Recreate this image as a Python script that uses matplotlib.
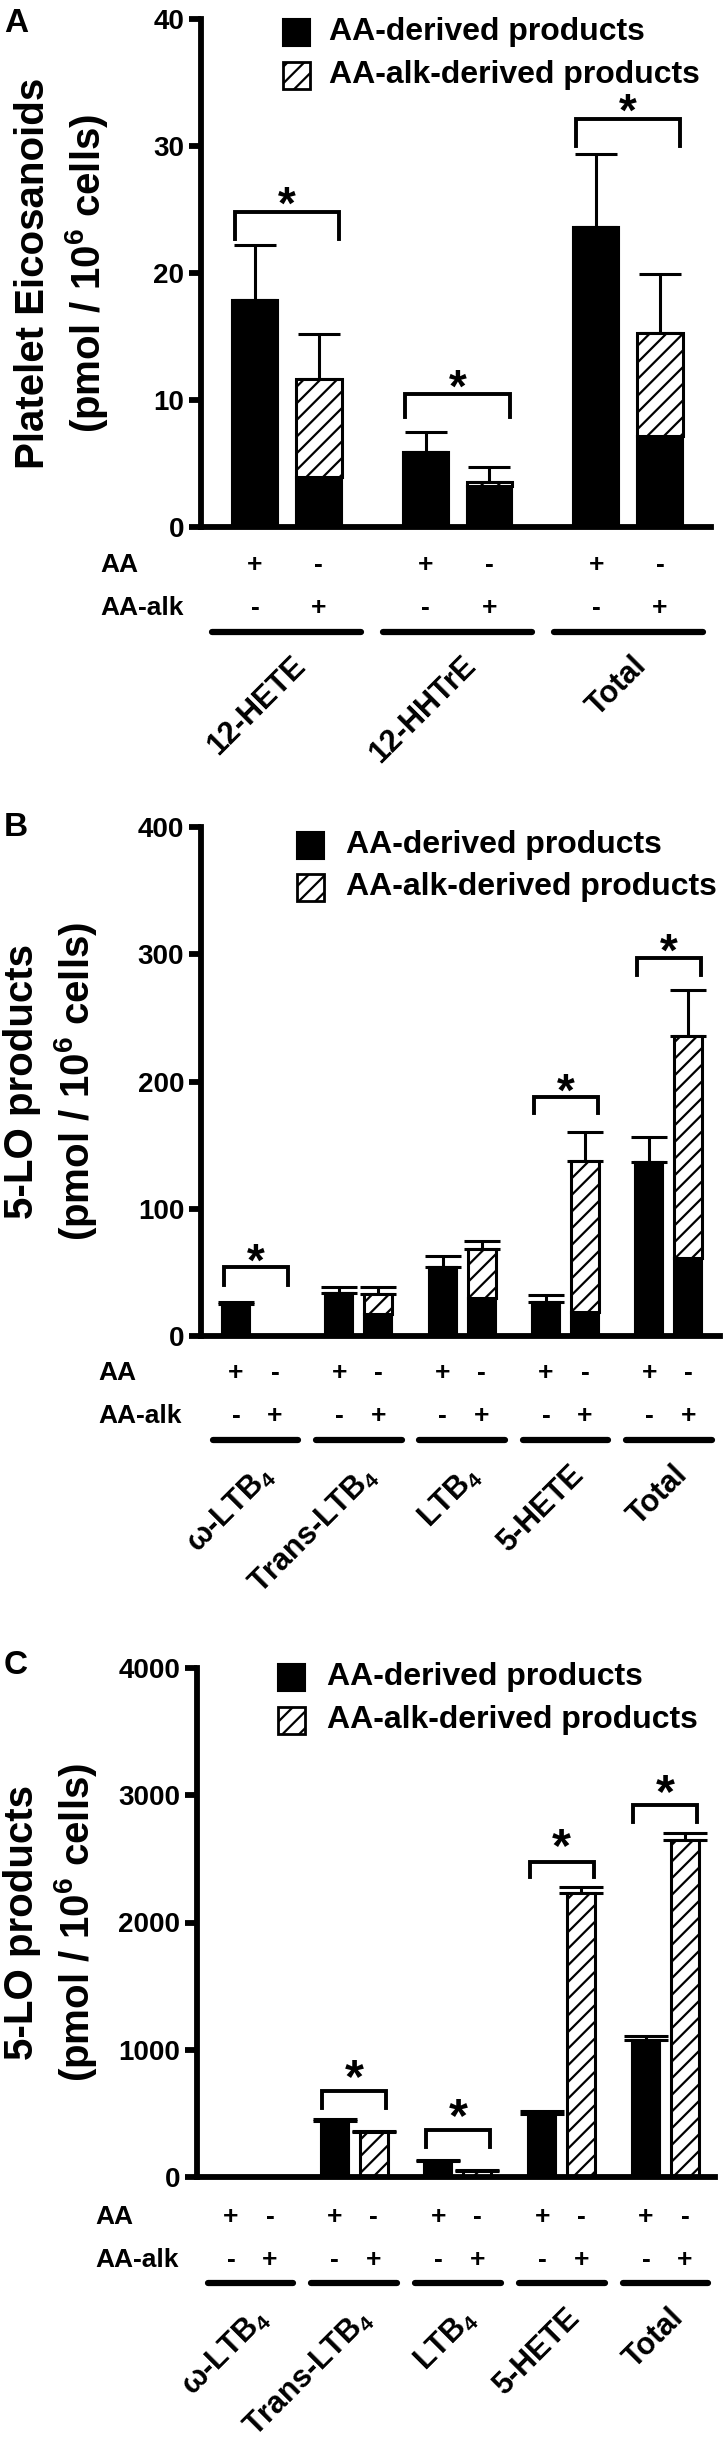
import matplotlib
matplotlib.use('Agg')
import matplotlib.pyplot as plt
import matplotlib.transforms as mtransforms
from matplotlib.patches import Rectangle

plt.rcParams['font.family'] = ['Liberation Sans', 'DejaVu Sans']
plt.rcParams['font.weight'] = 'bold'
plt.rcParams['mathtext.fontset'] = 'custom'
plt.rcParams['mathtext.rm'] = 'Liberation Sans:bold'
plt.rcParams['mathtext.it'] = 'Liberation Sans:bold'
plt.rcParams['mathtext.bf'] = 'Liberation Sans:bold'
plt.rcParams['mathtext.default'] = 'rm'
plt.rcParams['hatch.linewidth'] = 1.6

# ---------------- data ----------------
legend_labels = ['AA-derived products', 'AA-alk-derived products']
row_labels = ['AA', 'AA-alk']
row_AA = ['+', '-']
row_ALK = ['-', '+']

# Panel A : platelets
A_groups = ['12-HETE', '12-HHTrE', 'Total']
A_aa = [17.9, 5.9, 23.6]
A_aa_err = [4.3, 1.55, 5.8]
A_alk_total = [11.65, 3.55, 15.25]
A_alk_black = [3.95, 3.2, 7.2]
A_alk_err = [3.55, 1.2, 4.65]
A_sig = [0, 1, 2]
A_br_top = [24.8, 10.5, 32.1]
A_br_leg = [22.7, 8.7, 30.0]
A_star = [26.3, 11.9, 33.6]
A_yticks = [0, 10, 20, 30, 40]
A_ylabel = ['Platelet Eicosanoids', '(pmol / 10$^6$ cells)']

# Panel B : 5-LO products
B_groups = ['ω-LTB$_4$', 'Trans-LTB$_4$', 'LTB$_4$', '5-HETE', 'Total']
B_aa = [25.5, 34.0, 54.5, 26.4, 137.0]
B_aa_err = [1.0, 4.8, 8.4, 5.8, 19.7]
B_alk_total = [0.0, 33.0, 68.0, 137.5, 235.8]
B_alk_black = [0.0, 17.3, 29.6, 18.6, 61.0]
B_alk_err = [0.0, 5.8, 6.6, 23.1, 36.2]
B_sig = [0, 3, 4]
B_br_top = [54.5, 188.0, 296.8]
B_br_leg = [40.0, 175.0, 283.7]
B_star = [67.6, 201.0, 311.0]
B_yticks = [0, 100, 200, 300, 400]
B_ylabel = ['5-LO products', '(pmol / 10$^6$ cells)']

# Panel C : 5-LO products (second experiment)
C_groups = ['ω-LTB$_4$', 'Trans-LTB$_4$', 'LTB$_4$', '5-HETE', 'Total']
C_aa = [0.0, 442.0, 128.0, 495.0, 1077.0]
C_aa_err = [0.0, 14.0, 6.0, 26.0, 31.0]
C_alk_total = [0.0, 356.0, 50.0, 2230.0, 2648.0]
C_alk_black = [0.0, 0.0, 0.0, 0.0, 0.0]
C_alk_err = [0.0, 4.0, 4.0, 51.0, 53.0]
C_sig = [1, 2, 3, 4]
C_br_top = [678.0, 369.0, 2478.0, 2923.0]
C_br_leg = [540.0, 238.0, 2360.0, 2792.0]
C_star = [880.0, 579.0, 2701.0, 3120.0]
C_yticks = [0, 1000, 2000, 3000, 4000]
C_ylabel = ['5-LO products', '(pmol / 10$^6$ cells)']

# ---------------- figure ----------------
W, H = 724, 2439
fig = plt.figure(figsize=(W / 100, H / 100), dpi=100)


def fx(x):
    return x / W


def fy(y):
    return 1 - y / H


def panel(letter, letter_pos, box, xlim, gpitch, groups, aa, aa_err, alk_tot,
          alk_blk, alk_err, sig, br_top, br_leg, star, yticks, ylabel,
          ylabel_x, rows_px, line_px, leg_sq_x, leg_txt_x, leg_rows,
          capsize, line_half, label_dx, label_dy, rowlab_x, star_fs, lab_fs):
    left, right, top, bottom = box
    ax = fig.add_axes([fx(left), fy(bottom), (right - left) / W, (bottom - top) / H])
    bw = 0.72
    n = len(groups)
    x_aa = [g * gpitch for g in range(n)]
    x_alk = [g * gpitch + 1 for g in range(n)]

    # black AA bars
    xa = [x for x, v in zip(x_aa, aa) if v > 0]
    va_ = [v for v in aa if v > 0]
    ea = [e for v, e in zip(aa, aa_err) if v > 0]
    ax.bar(xa, va_, width=bw, color='black', edgecolor='black', lw=1.5, zorder=2)
    ax.errorbar(xa, va_, yerr=[[0] * len(ea), ea], fmt='none', ecolor='black',
                elinewidth=2.2, capsize=capsize, capthick=2.2, zorder=1)

    # AA-alk bars: black lower part + hatched upper part
    xk = [x for x, v in zip(x_alk, alk_tot) if v > 0]
    tk = [v for v in alk_tot if v > 0]
    bk = [b for v, b in zip(alk_tot, alk_blk) if v > 0]
    ek = [e for v, e in zip(alk_tot, alk_err) if v > 0]
    hk = [t - b for t, b in zip(tk, bk)]
    ax.bar(xk, bk, width=bw, color='black', edgecolor='black', lw=1.5, zorder=2)
    ax.bar(xk, hk, bottom=bk, width=bw, facecolor='white', edgecolor='black',
           hatch='//', lw=2.2, zorder=2)
    ax.errorbar(xk, tk, yerr=[[0] * len(ek), ek], fmt='none', ecolor='black',
                elinewidth=2.2, capsize=capsize, capthick=2.2, zorder=1)

    # significance brackets
    for i, gi in enumerate(sig):
        x0 = x_aa[gi] - 0.32
        x1 = x_alk[gi] + 0.32
        ax.plot([x0, x0, x1, x1], [br_leg[i], br_top[i], br_top[i], br_leg[i]],
                color='black', lw=2.8, solid_joinstyle='miter', clip_on=False)
        tr = ax.transData + mtransforms.ScaledTranslation(0, -0.56 * star_fs / 72,
                                                          fig.dpi_scale_trans)
        ax.text((x0 + x1) / 2, star[i], '*', ha='center', va='baseline',
                fontsize=star_fs, transform=tr)

    ax.set_xlim(*xlim)
    ax.set_ylim(yticks[0], yticks[-1])
    ax.set_yticks(yticks)
    ax.set_xticks([])
    for s in ['top', 'right']:
        ax.spines[s].set_visible(False)
    for s in ['left', 'bottom']:
        ax.spines[s].set_linewidth(4.2)
    ax.tick_params(axis='y', length=9, width=4.2, labelsize=20, pad=3)
    for t in ax.get_yticklabels():
        t.set_fontweight('bold')

    # +/- rows
    xt = ax.get_xaxis_transform()

    def yf(px):
        return (bottom - px) / (bottom - top)
    for g in range(n):
        ax.text(x_aa[g], yf(rows_px[0]), row_AA[0], ha='center', va='center',
                fontsize=19, transform=xt)
        ax.text(x_alk[g], yf(rows_px[0]), row_AA[1], ha='center', va='center',
                fontsize=19, transform=xt)
        ax.text(x_aa[g], yf(rows_px[1]), row_ALK[0], ha='center', va='center',
                fontsize=19, transform=xt)
        ax.text(x_alk[g], yf(rows_px[1]), row_ALK[1], ha='center', va='center',
                fontsize=19, transform=xt)
        gc = (x_aa[g] + x_alk[g]) / 2
        ax.plot([gc - line_half, gc + line_half], [yf(line_px), yf(line_px)],
                transform=xt, clip_on=False, color='black', lw=4.5,
                solid_capstyle='round')
        t = ax.text(gc + label_dx, yf(line_px + label_dy), groups[g],
                    ha='right', va='top', fontsize=lab_fs, transform=xt)
        t.set_rotation_mode('anchor')
        t.set_rotation(45)
    fig.text(fx(rowlab_x), fy(rows_px[0]), row_labels[0], ha='left', va='center', fontsize=19)
    fig.text(fx(rowlab_x), fy(rows_px[1]), row_labels[1], ha='left', va='center', fontsize=19)

    # legend
    sq = 27
    for i, lab in enumerate(legend_labels):
        cy = leg_rows[i]
        if i == 0:
            r = Rectangle((fx(leg_sq_x), fy(cy + sq / 2)), sq / W, sq / H,
                          transform=fig.transFigure, facecolor='black',
                          edgecolor='black', lw=1.5)
        else:
            r = Rectangle((fx(leg_sq_x), fy(cy + sq / 2)), sq / W, sq / H,
                          transform=fig.transFigure, facecolor='white',
                          edgecolor='black', hatch='//', lw=2)
        fig.add_artist(r)
        fig.text(fx(leg_txt_x), fy(cy), lab, ha='left', va='center', fontsize=23)

    # y label (two lines)
    cy = (top + bottom) / 2
    fig.text(fx(ylabel_x[0]), fy(cy), ylabel[0], rotation=90, ha='center',
             va='center', fontsize=29)
    fig.text(fx(ylabel_x[1]), fy(cy), ylabel[1], rotation=90, ha='center',
             va='center', fontsize=29)

    fig.text(fx(letter_pos[0]), fy(letter_pos[1]), letter, ha='left', va='top',
             fontsize=24)
    return ax


panel('A', (4, 8), (201, 711, 19, 527), (-0.85, 7.16), 2.68, A_groups, A_aa,
      A_aa_err, A_alk_total, A_alk_black, A_alk_err, A_sig, A_br_top, A_br_leg,
      A_star, A_yticks, A_ylabel, (33, 87), (565, 608), 632, 283, 329, (32, 75),
      15, 1.17, 0.05, 19, 100, 33, 22)

panel('B', (4, 812), (201, 720, 827, 1336), (-0.9, 12.41), 2.65, B_groups, B_aa,
      B_aa_err, B_alk_total, B_alk_black, B_alk_err, B_sig, B_br_top, B_br_leg,
      B_star, B_yticks, B_ylabel, (22, 76), (1373, 1416), 1440, 297, 346,
      (845, 887), 13, 1.1, 0.08, 20, 98, 33, 22)

panel('C', (4, 1650), (197, 715, 1668, 2177), (-0.87, 12.41), 2.66, C_groups, C_aa,
      C_aa_err, C_alk_total, C_alk_black, C_alk_err, C_sig, C_br_top, C_br_leg,
      C_star, C_yticks, C_ylabel, (22, 76), (2217, 2260), 2283, 278, 327,
      (1677, 1720), 16, 1.1, 0.08, 20, 95, 35, 22)

fig.savefig('out.png', dpi=100)
